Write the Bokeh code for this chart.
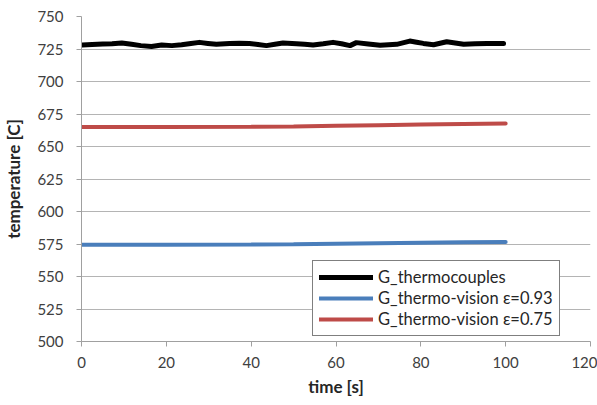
from bokeh.plotting import figure
from bokeh.models import Range1d, FixedTicker, Legend, LegendItem
from bokeh.embed import file_html
from bokeh.resources import INLINE

# data
tc_time = [0.2, 2.5, 5.0, 7.2, 9.5, 11.8, 14.0, 16.5, 18.9, 21.3, 23.6, 25.8, 27.8, 29.8, 31.8, 34.9,
           37.2, 39.6, 41.6, 43.6, 45.6, 47.5, 50.7, 52.6, 54.6, 57.0, 59.3, 61.3, 63.3, 64.8, 67.6,
           70.4, 72.4, 74.3, 77.4, 79.0, 80.6, 83.0, 86.1, 88.1, 90.1, 92.8, 95.6, 99.5]
tc_temp = [728.1, 728.4, 728.8, 729.1, 729.6, 728.6, 727.6, 727.0, 728.1, 727.6, 728.3, 729.2, 730.1, 729.3, 728.6, 729.3,
           729.4, 729.3, 728.5, 727.6, 728.6, 729.6, 729.1, 728.6, 728.1, 729.0, 730.1, 729.0, 727.6, 729.9, 728.8,
           727.8, 728.2, 728.6, 731.1, 730.2, 729.3, 728.3, 730.6, 729.6, 728.6, 729.0, 729.3, 729.3]
tv_time = [0, 20, 40, 50, 60, 70, 80, 90, 100]
tv093 = [574.5, 574.5, 574.6, 574.8, 575.2, 575.6, 576.0, 576.3, 576.6]
tv075 = [665.0, 665.0, 665.1, 665.4, 665.9, 666.4, 666.9, 667.3, 667.7]
x_ticks = [0, 20, 40, 60, 80, 100, 120]
y_ticks = [500, 525, 550, 575, 600, 625, 650, 675, 700, 725, 750]
labels = ["G_thermocouples", "G_thermo-vision ε=0.93", "G_thermo-vision ε=0.75"]

FONT = "Lato"
TXT = "#404040"

p = figure(width=597, height=399, output_backend="svg", toolbar_location=None,
           x_range=Range1d(0, 120), y_range=Range1d(500, 750),
           min_border_left=79, min_border_right=7, min_border_top=16, min_border_bottom=57)
p.outline_line_color = None
p.background_fill_color = "white"
p.border_fill_color = "white"

p.xgrid.visible = False
p.ygrid.grid_line_color = "#b4b4b4"
p.ygrid.grid_line_width = 1
p.ygrid.ticker = FixedTicker(ticks=y_ticks)

for ax in (p.xaxis[0], p.yaxis[0]):
    ax.axis_line_color = "#a0a0a0"
    ax.major_tick_line_color = "#a0a0a0"
    ax.minor_tick_line_color = None
    ax.major_tick_in = 0
    ax.major_tick_out = 5
    ax.major_label_text_font = FONT
    ax.major_label_text_font_size = "15px"
    ax.major_label_text_color = TXT
    ax.axis_label_text_font = FONT
    ax.axis_label_text_font_size = "17px"
    ax.axis_label_text_font_style = "bold"
    ax.axis_label_text_color = "#262626"

p.xaxis.ticker = FixedTicker(ticks=x_ticks)
p.yaxis.ticker = FixedTicker(ticks=y_ticks)
p.xaxis.axis_label = "time [s]"
p.yaxis.axis_label = "temperature [C]"
p.xaxis.major_label_standoff = 10
p.yaxis.major_label_standoff = 13
p.xaxis.axis_label_standoff = 5
p.yaxis.axis_label_standoff = 10

r_tc = p.line(tc_time, tc_temp, line_color="black", line_width=5, line_join="round", line_cap="round")
r_b = p.line(tv_time, tv093, line_color="#4a7ebb", line_width=4, line_cap="round")
r_r = p.line(tv_time, tv075, line_color="#be4b48", line_width=4, line_cap="round")

legend = Legend(items=[LegendItem(label=labels[0], renderers=[r_tc]),
                       LegendItem(label=labels[1], renderers=[r_b]),
                       LegendItem(label=labels[2], renderers=[r_r])],
                location=(231, 5))
legend.border_line_color = "black"
legend.border_line_width = 1
legend.background_fill_color = "white"
legend.background_fill_alpha = 1
legend.label_text_font = FONT
legend.label_text_font_size = "16.5px"
legend.label_text_color = "#262626"
legend.glyph_width = 54
legend.glyph_height = 20
legend.label_height = 20
legend.spacing = 1
legend.padding = 6
legend.margin = 0
legend.label_standoff = 5
p.add_layout(legend, "center")

open("out.html", "w").write(file_html(p, INLINE))
